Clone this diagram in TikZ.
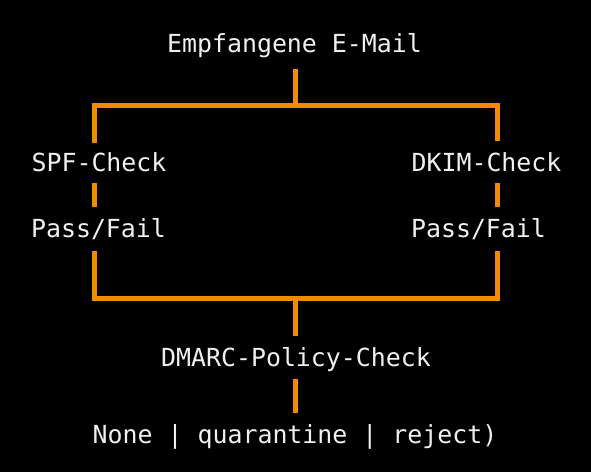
\documentclass[tikz,border=0pt]{standalone}
\usepackage{fontspec}
\usepackage{tikz}
\usepackage{xcolor}
\newfontfamily\monofont{DejaVu Sans Mono}
\definecolor{wireorange}{RGB}{243,139,0}
\definecolor{termwhite}{RGB}{240,240,240}

\begin{document}
\begin{tikzpicture}[x=1pt,y=-1pt,
  wire/.style={draw=wireorange,line width=5pt},
  term/.style={text=termwhite,font=\monofont\fontsize{24.9}{28}\selectfont,
    inner sep=0pt,outer ysep=11pt,text height=19pt,text depth=6pt,anchor=base}]
\fill[black] (0,0) rectangle (591,472);
\coordinate (split) at (295.5,105.5);
\coordinate (lbar) at (94.5,105.5);
\coordinate (rbar) at (497.5,105.5);
\coordinate (join) at (295.5,298.5);
\coordinate (lfoot) at (94.5,298.5);
\coordinate (rfoot) at (497.5,298.5);
\node[term] (email) at (294.5,52) {Empfangene E-Mail};
\node[term] (spf) at (99,171) {SPF-Check};
\node[term] (dkim) at (486.5,171) {DKIM-Check};
\node[term] (spfres) at (98.5,237) {Pass/Fail};
\node[term] (dkimres) at (478.5,237) {Pass/Fail};
\node[term] (dmarc) at (296,366) {DMARC-Policy-Check};
\node[term] (policy) at (295,443) {None | quarantine | reject)};
\draw[wire] (email.south -| split) -- (split);
\draw[wire,shorten <=-2pt] (spf.north -| lbar) -- (lbar) -- (rbar) -- (dkim.north -| rbar);
\draw[wire,shorten <=-5pt] (spf.south -| lbar) -- (spfres.north -| lbar);
\draw[wire,shorten <=-5pt] (dkim.south -| rbar) -- (dkimres.north -| rbar);
\draw[wire,shorten <=-3pt,shorten >=-3pt] (spfres.south -| lfoot) -- (lfoot) -- (rfoot) -- (dkimres.south -| rfoot);
\draw[wire] (join) -- (dmarc.north -| join);
\draw[wire,shorten <=-4pt] (dmarc.south -| join) -- (policy.north -| join);
\end{tikzpicture}
\end{document}
